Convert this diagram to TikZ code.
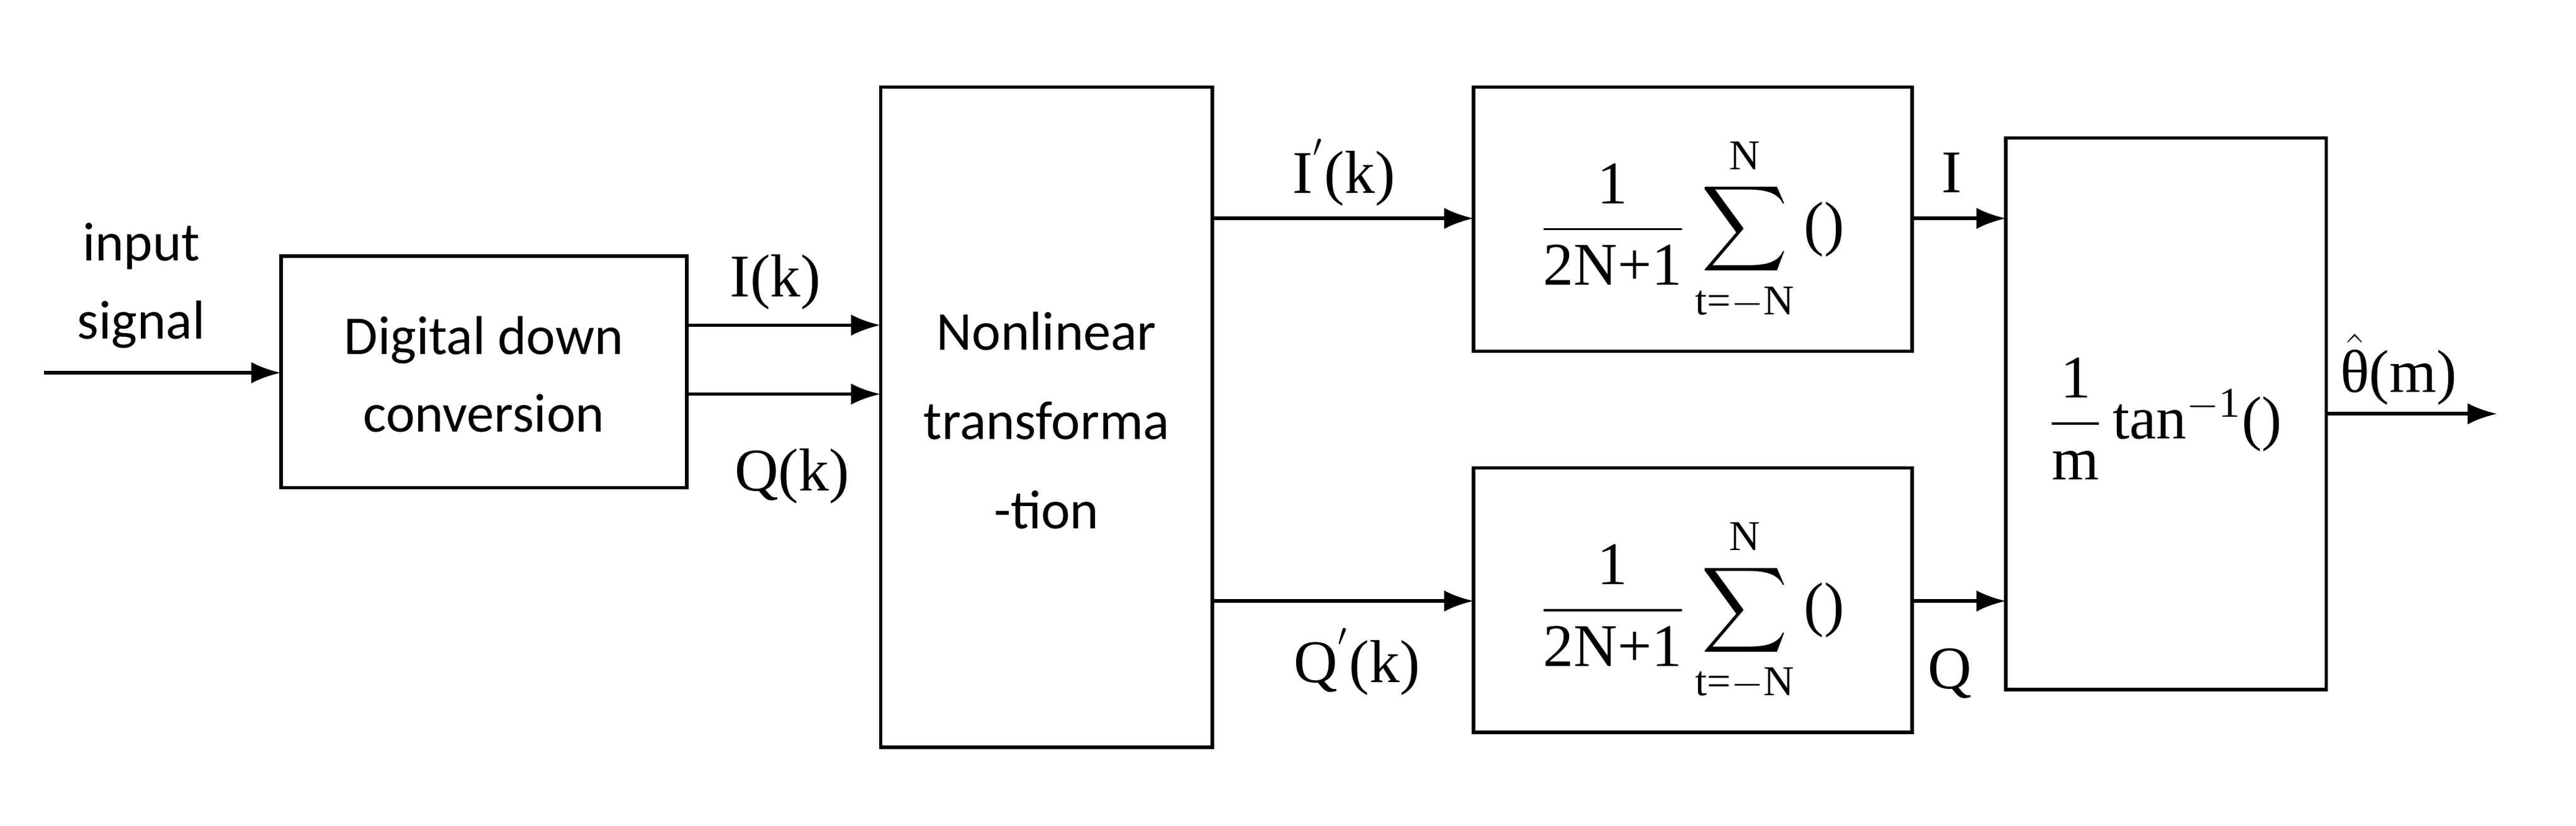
\documentclass[tikz,border=0pt]{standalone}
\usepackage{amsmath}
\usepackage{fontspec}
\setmainfont{Carlito}
\newfontfamily\lbf{Liberation Serif}
\usetikzlibrary{arrows.meta}
\newcommand{\lt}[1]{\text{\lbf #1}}
\begin{document}
\begin{tikzpicture}[x=0.02cm,y=-0.02cm,
  box/.style={draw,line width=1.2pt},
  arr/.style={line width=1.2pt,-{Latex[length=0.36cm,width=0.26cm]}},
  txt/.style={font=\fontsize{19}{23}\selectfont,align=center},
  lab/.style={font=\fontsize{21}{25}\lbf}]
\useasboundingbox (0,0) rectangle (1568,503);
\draw[box] (171,156) rectangle (418,297);
\node[txt] (ddc) at (294.5,228) {Digital down\\[4pt]conversion};
\draw[box] (536,53) rectangle (738,455);
\node[txt] (nl) at (637,256) {Nonlinear\\[8pt]transforma\\[8pt]-tion};
\draw[box] (897,53) rectangle (1164,214);
\node[lab] (s1) at (1030,140) {$\dfrac{\lt{1}}{\lt{2N+1}}\displaystyle\sum_{\lt{t=$-$N}}^{\lt{N}}\lt{()}$};
\draw[box] (897,285) rectangle (1164,446);
\node[lab] (s2) at (1030,372) {$\dfrac{\lt{1}}{\lt{2N+1}}\displaystyle\sum_{\lt{t=$-$N}}^{\lt{N}}\lt{()}$};
\draw[box] (1221,84) rectangle (1416,420);
\node[lab] (at) at (1318,255) {$\dfrac{\lt{1}}{\lt{m}}\,\lt{tan}^{\lt{$-$1}}\lt{()}$};
\node[txt] (in) at (86,174) {input\\[4pt]signal};
\coordinate (a0) at (27,227); \coordinate (a1) at (171,227);
\draw[arr] (a0) -- (a1);
\coordinate (b0) at (418,198); \coordinate (b1) at (536,198);
\draw[arr] (b0) -- (b1);
\coordinate (c0) at (418,240); \coordinate (c1) at (536,240);
\draw[arr] (c0) -- (c1);
\coordinate (d0) at (738,133); \coordinate (d1) at (897,133);
\draw[arr] (d0) -- (d1);
\coordinate (e0) at (738,366); \coordinate (e1) at (897,366);
\draw[arr] (e0) -- (e1);
\coordinate (f0) at (1164,133); \coordinate (f1) at (1221,133);
\draw[arr] (f0) -- (f1);
\coordinate (g0) at (1164,366); \coordinate (g1) at (1221,366);
\draw[arr] (g0) -- (g1);
\coordinate (h0) at (1416,252); \coordinate (h1) at (1520,252);
\draw[arr] (h0) -- (h1);
\node[lab] (lI) at (472,172) {I(k)};
\node[lab] (lQ) at (482,290) {Q(k)};
\node[lab] (lIp) at (818,105) {I$^{'}$(k)};
\node[lab] (lQp) at (826,403) {Q$^{'}$(k)};
\node[lab] (l1) at (1188,105) {I};
\node[lab] (l2) at (1187,410) {Q};
\node[lab] (lt) at (1460,225) {$\hat{\text{\lbf θ}}$(m)};
\end{tikzpicture}
\end{document}
